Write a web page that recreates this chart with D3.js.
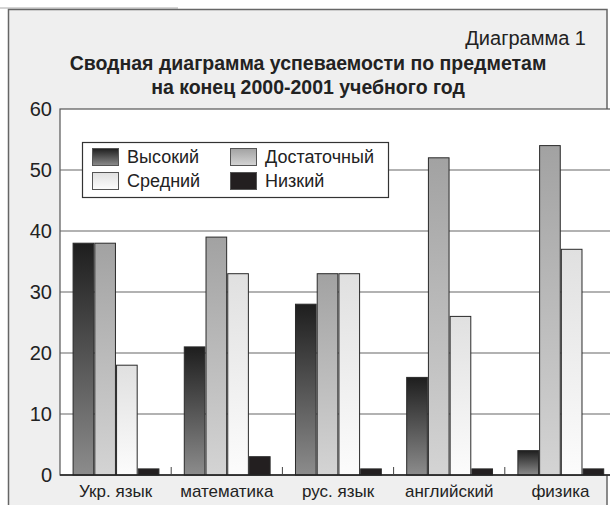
<!DOCTYPE html>
<html>
<head>
<meta charset="utf-8">
<script src="https://cdn.jsdelivr.net/npm/d3@7"></script>
<style>
  body { margin: 0; background: #fff; }
  svg { display: block; font-family: "Liberation Sans", Arial, sans-serif; }
</style>
</head>
<body>
<div id="chart"></div>
<script>
var subjects = ["Укр. язык", "математика", "рус. язык", "английский", "физика"];
var levels = ["Высокий", "Достаточный", "Средний", "Низкий"];
var vysokiy = [38, 21, 28, 16, 4];
var dostatochny = [38, 39, 33, 52, 54];
var sredniy = [18, 33, 33, 26, 37];
var nizkiy = [1, 3, 1, 1, 1];
var yTicks = [0, 10, 20, 30, 40, 50, 60];

var series = [vysokiy, dostatochny, sredniy, nizkiy];

var w = 610, h = 505;
var svg = d3.select("#chart").append("svg").attr("width", w).attr("height", h);

// gradients for the bars
var defs = svg.append("defs");
var grads = [
	["g0", "#1e1e1e", "#8c8c8c"],
	["g1", "#a2a2a2", "#d4d4d4"],
	["g2", "#e0e0e0", "#fcfcfc"],
	["g3", "#231f20", "#231f20"]
];
grads.forEach(function(g) {
	var lg = defs.append("linearGradient").attr("id", g[0])
		.attr("x1", 0).attr("y1", 0).attr("x2", 0).attr("y2", 1);
	lg.append("stop").attr("offset", "0%").attr("stop-color", g[1]);
	lg.append("stop").attr("offset", "100%").attr("stop-color", g[2]);
});

// outer frame
svg.append("line").attr("x1", 0).attr("x2", 178).attr("y1", 8).attr("y2", 8)
	.attr("stroke", "#aaa").attr("stroke-width", 1);
svg.append("rect").attr("x", 8.5).attr("y", 9.5).attr("width", 598.5).attr("height", 520)
	.attr("fill", "#efefef").attr("stroke", "#666").attr("stroke-width", 1.5);

// titles
svg.append("text").attr("x", 586).attr("y", 45).attr("text-anchor", "end")
	.attr("font-size", 20).attr("fill", "#222").text("Диаграмма 1");
svg.append("text").attr("x", 308).attr("y", 70).attr("text-anchor", "middle")
	.attr("font-size", 19.5).attr("font-weight", "bold").attr("fill", "#222")
	.text("Сводная диаграмма успеваемости по предметам");
svg.append("text").attr("x", 308).attr("y", 94).attr("text-anchor", "middle")
	.attr("font-size", 19.5).attr("font-weight", "bold").attr("fill", "#222")
	.text("на конец 2000-2001 учебного год");

var pLeft = 60, pTop = 109, pBottom = 475, pRight = 616;

var x0 = d3.scaleBand().domain(subjects).range([pLeft, pRight]).paddingInner(0).paddingOuter(0);
var x1 = d3.scaleBand().domain(levels).range([12, 100]).padding(0.05);
var y = d3.scaleLinear().domain([0, 60]).range([pBottom, pTop]);

// plot area
svg.append("rect").attr("x", pLeft).attr("y", pTop).attr("width", 560).attr("height", pBottom - pTop)
	.attr("fill", "#fff").attr("stroke", "#555").attr("stroke-width", 1.2);

// grid
svg.append("g").selectAll("line").data(yTicks.slice(1, -1)).enter().append("line")
	.attr("x1", pLeft).attr("x2", 612)
	.attr("y1", function(d) { return y(d); }).attr("y2", function(d) { return y(d); })
	.attr("stroke", "#666").attr("stroke-width", 1.2);

// y labels
svg.append("g").selectAll("text").data(yTicks).enter().append("text")
	.attr("x", 52).attr("y", function(d) { return y(d) + 7; })
	.attr("text-anchor", "end").attr("font-size", 20).attr("fill", "#222")
	.text(function(d) { return d; });

// legend
var lg = svg.append("g");
lg.append("rect").attr("x", 82.5).attr("y", 142.5).attr("width", 306).attr("height", 55)
	.attr("fill", "#fff").attr("stroke", "#333").attr("stroke-width", 1.2);
var legPos = [[92, 148], [230, 148], [92, 172], [230, 172]];
levels.forEach(function(l, i) {
	var p = legPos[i];
	lg.append("rect").attr("x", p[0] + 0.5).attr("y", p[1] + 0.5).attr("width", 26).attr("height", 17)
		.attr("fill", "url(#g" + i + ")").attr("stroke", "#555").attr("stroke-width", 1);
	lg.append("text").attr("x", p[0] + 35).attr("y", p[1] + 15).attr("font-size", 18)
		.attr("fill", "#222").text(l);
});

// bars
var groups = svg.append("g").selectAll("g").data(subjects).enter().append("g")
	.attr("transform", function(d) { return "translate(" + x0(d) + ",0)"; });
groups.selectAll("rect").data(function(d, i) {
		return levels.map(function(l, k) { return { level: l, k: k, value: series[k][i] }; });
	}).enter().append("rect")
	.attr("x", function(d) { return x1(d.level); })
	.attr("width", x1.bandwidth())
	.attr("y", function(d) { return y(d.value); })
	.attr("height", function(d) { return y(0) - y(d.value); })
	.attr("fill", function(d) { return "url(#g" + d.k + ")"; })
	.attr("stroke", "#2a2a2a").attr("stroke-width", 1);

// x axis
svg.append("line").attr("x1", pLeft).attr("x2", 612).attr("y1", pBottom).attr("y2", pBottom)
	.attr("stroke", "#222").attr("stroke-width", 1.5);
svg.append("g").selectAll("line").data(subjects.slice(1)).enter().append("line")
	.attr("x1", function(d) { return x0(d); }).attr("x2", function(d) { return x0(d); })
	.attr("y1", pBottom).attr("y2", pBottom - 8)
	.attr("stroke", "#444").attr("stroke-width", 1);
svg.append("g").selectAll("text").data(subjects).enter().append("text")
	.attr("x", function(d) { return x0(d) + x0.bandwidth() / 2; })
	.attr("y", 497).attr("text-anchor", "middle").attr("font-size", 17).attr("fill", "#222")
	.text(function(d) { return d; });
</script>
</body>
</html>
